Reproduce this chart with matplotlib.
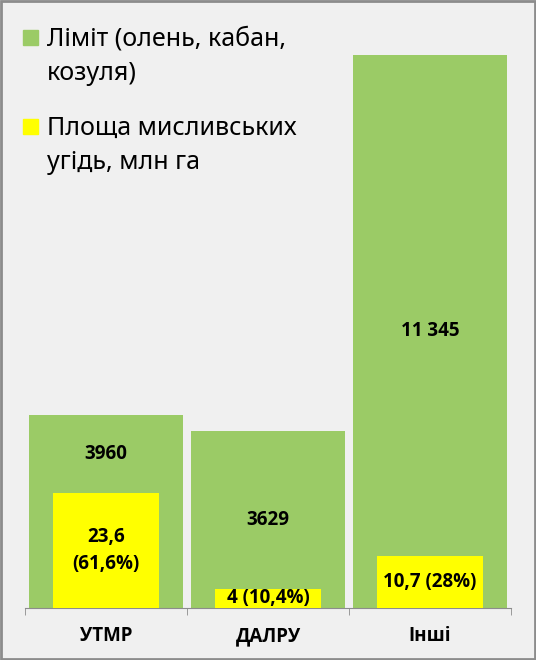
import numpy as np
import matplotlib
matplotlib.use("Agg")
import matplotlib.pyplot as plt
from matplotlib.patches import Rectangle

plt.rcParams['font.family'] = ['Noto Sans', 'DejaVu Sans']
bold_family = ['Open Sans', 'Roboto', 'DejaVu Sans']

# дані
categories = ["УТМР", "ДАЛРУ", "Інші"]
limit_vals = [3960, 3629, 11345]
limit_labels = ["3960", "3629", "11 345"]
area_vals = [23.6, 4.0, 10.7]
area_labels = ["23,6\n(61,6%)", "4 (10,4%)", "10,7 (28%)"]
legend_labels = ["Ліміт (олень, кабан,\nкозуля)", "Площа мисливських\nугідь, млн га"]

green = "#9bcb66"
yellow = "#ffff00"
bg = "#f0f0f0"

W, H = 536, 660
fig = plt.figure(figsize=(W / 100, H / 100), dpi=100, facecolor=bg)
ax = fig.add_axes([25 / W, 52 / H, 486 / W, 585 / H])
ax.set_facecolor("none")
ax2 = ax.twinx()

x = np.arange(len(categories))
ax.bar(x, limit_vals, width=0.95, color=green, zorder=1)
ax2.bar(x, area_vals, width=0.65, color=yellow, zorder=2)

ax.set_xlim(-0.5, 2.5)
ax.set_ylim(0, 12000)
ax2.set_ylim(0, 120)

for a in (ax, ax2):
    for s in ("top", "left", "right"):
        a.spines[s].set_visible(False)
    a.set_yticks([])
ax2.spines["bottom"].set_visible(False)
ax.spines["bottom"].set_color("#8c8c8c")

ax.set_xticks(x)
ax.set_xticklabels(categories, fontsize=13.5, fontweight="bold", family=bold_family)
ax.tick_params(axis="x", which="major", length=0, pad=13)
ax.set_xticks(np.arange(-0.5, 3, 1), minor=True)
ax.tick_params(axis="x", which="minor", length=5, color="#8c8c8c")

# підписи
for i in range(len(categories)):
    yt = area_vals[i] * 100
    if yt > limit_vals[i] / 2:
        ly = (yt + limit_vals[i]) / 2
    else:
        ly = limit_vals[i] / 2
    ax.text(x[i], ly, limit_labels[i], ha="center", va="center", family=bold_family,
            fontsize=13.5, fontweight="bold", zorder=5)
    ax2.text(x[i], area_vals[i] / 2, area_labels[i], ha="center", va="center",
             family=bold_family, fontsize=13.5, fontweight="bold",
             linespacing=1.5, zorder=5)

# легенда
for j, (lab, col) in enumerate(zip(legend_labels, [green, yellow])):
    top = 30 + j * 89
    fig.patches.append(Rectangle((23 / W, 1 - (top + 15) / H), 15 / W, 15 / H,
                                 transform=fig.transFigure, color=col))
    fig.text(47 / W, 1 - (top - 3) / H, lab, fontsize=18, va="top",
             linespacing=1.45)

fig.patches.append(Rectangle((0.002, 0.002), 0.996, 0.996, transform=fig.transFigure,
                             fill=False, edgecolor="#8c8c8c", linewidth=2))

fig.savefig("out.png", dpi=100, facecolor=bg)
